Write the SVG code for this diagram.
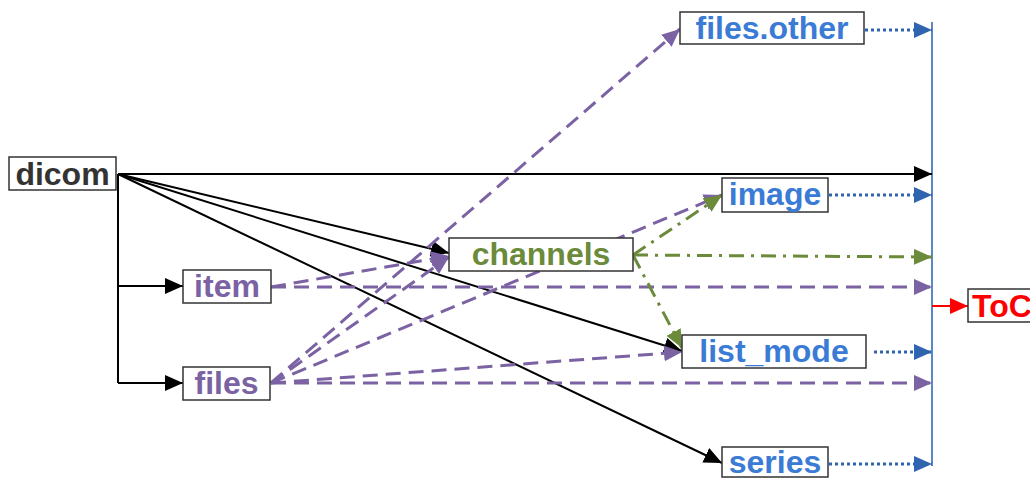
<svg xmlns="http://www.w3.org/2000/svg" width="1030" height="478" viewBox="0 0 1030 478">
<style>
.box{fill:#fff;stroke:#333;stroke-width:1.5}
.t{font-family:"Liberation Sans",Arial,sans-serif;font-weight:bold;font-size:32px;text-anchor:middle}
.blk{fill:none;stroke:#000;stroke-width:2}
.pur{fill:none;stroke:#7b62a3;stroke-width:3;stroke-dasharray:15 8}
.grn{fill:none;stroke:#6b8a3a;stroke-width:3;stroke-dasharray:15 7 3 7}
.dot{fill:none;stroke:#2f65b0;stroke-width:3;stroke-dasharray:3 3}
</style>
<defs>
<marker id="ab" markerUnits="userSpaceOnUse" markerWidth="20" markerHeight="16" refX="18" refY="8" orient="auto"><path d="M0,0 L18,8 L0,16 z" fill="#000"/></marker>
<marker id="ap" markerUnits="userSpaceOnUse" markerWidth="20" markerHeight="16" refX="18" refY="8" orient="auto"><path d="M0,0 L18,8 L0,16 z" fill="#7b62a3"/></marker>
<marker id="ag" markerUnits="userSpaceOnUse" markerWidth="20" markerHeight="16" refX="18" refY="8" orient="auto"><path d="M0,0 L18,8 L0,16 z" fill="#6b8a3a"/></marker>
<marker id="au" markerUnits="userSpaceOnUse" markerWidth="20" markerHeight="16" refX="18" refY="8" orient="auto"><path d="M0,0 L18,8 L0,16 z" fill="#2f65b0"/></marker>
<marker id="ar" markerUnits="userSpaceOnUse" markerWidth="20" markerHeight="16" refX="18" refY="8" orient="auto"><path d="M0,0 L18,8 L0,16 z" fill="#ff0000"/></marker>
</defs>
<g id="connectors">
<path d="M932,22 V466" fill="none" stroke="#5a87c5" stroke-width="2"/>
<path class="blk" d="M118,174 H932" marker-end="url(#ab)"/>
<path class="blk" d="M118,174 V383"/>
<path class="blk" d="M118,286 H183" marker-end="url(#ab)"/>
<path class="blk" d="M118,383 H183" marker-end="url(#ab)"/>
<path class="blk" d="M118,174 L449,253" marker-end="url(#ab)"/>
<path class="blk" d="M118,174 L682,351" marker-end="url(#ab)"/>
<path class="blk" d="M118,174 L722,463" marker-end="url(#ab)"/>
<path class="pur" d="M271,287 L449,256" marker-end="url(#ap)"/>
<path class="pur" d="M271,287 H932" marker-end="url(#ap)"/>
<path class="pur" d="M271,383 L449,257" marker-end="url(#ap)"/>
<path class="pur" d="M271,383 L680,29" marker-end="url(#ap)"/>
<path class="pur" d="M271,383 L722,195" marker-end="url(#ap)"/>
<path class="pur" d="M271,383 L682,352" marker-end="url(#ap)"/>
<path class="pur" d="M271,383 H932" marker-end="url(#ap)"/>
<path class="grn" d="M633,255 L722,195" marker-end="url(#ag)"/>
<path class="grn" d="M633,255 L682,348" marker-end="url(#ag)"/>
<path class="grn" d="M633,255 L932,257" marker-end="url(#ag)"/>
<path class="dot" d="M865,30 H932" marker-end="url(#au)"/>
<path class="dot" d="M829,195 H932" marker-end="url(#au)"/>
<path class="dot" d="M874,352 H932" marker-end="url(#au)"/>
<path class="dot" d="M829,464 H932" marker-end="url(#au)"/>
<path d="M932,306 H968" fill="none" stroke="#ff0000" stroke-width="2" marker-end="url(#ar)"/>
</g>
<g id="dicom"><rect class="box" x="9" y="157" width="107" height="33"/><text class="t" x="62.5" y="185" fill="#333">dicom</text></g>
<g id="item"><rect class="box" x="183" y="270" width="88" height="33"/><text class="t" x="227" y="297" fill="#7b62a3">item</text></g>
<g id="files"><rect class="box" x="183" y="367" width="87" height="33"/><text class="t" x="226.5" y="394" fill="#7b62a3">files</text></g>
<g id="channels"><rect class="box" x="449" y="238" width="184" height="33"/><text class="t" x="541" y="265" fill="#6b8a3a">channels</text></g>
<g id="files.other"><rect class="box" x="680" y="12" width="184" height="32"/><text class="t" x="772" y="39" fill="#3a7bd5">files.other</text></g>
<g id="image"><rect class="box" x="722" y="178" width="106" height="34"/><text class="t" x="775" y="205" fill="#3a7bd5">image</text></g>
<g id="list_mode"><rect class="box" x="682" y="335" width="184" height="33"/><text class="t" x="774" y="362" fill="#3a7bd5">list_mode</text></g>
<g id="series"><rect class="box" x="722" y="447" width="106" height="30"/><text class="t" x="775" y="473" fill="#3a7bd5">series</text></g>
<g id="ToC"><rect class="box" x="968" y="289" width="80" height="33"/><text class="t" x="972" y="317" fill="#ff0000" style="text-anchor:start">ToC</text></g>
</svg>
